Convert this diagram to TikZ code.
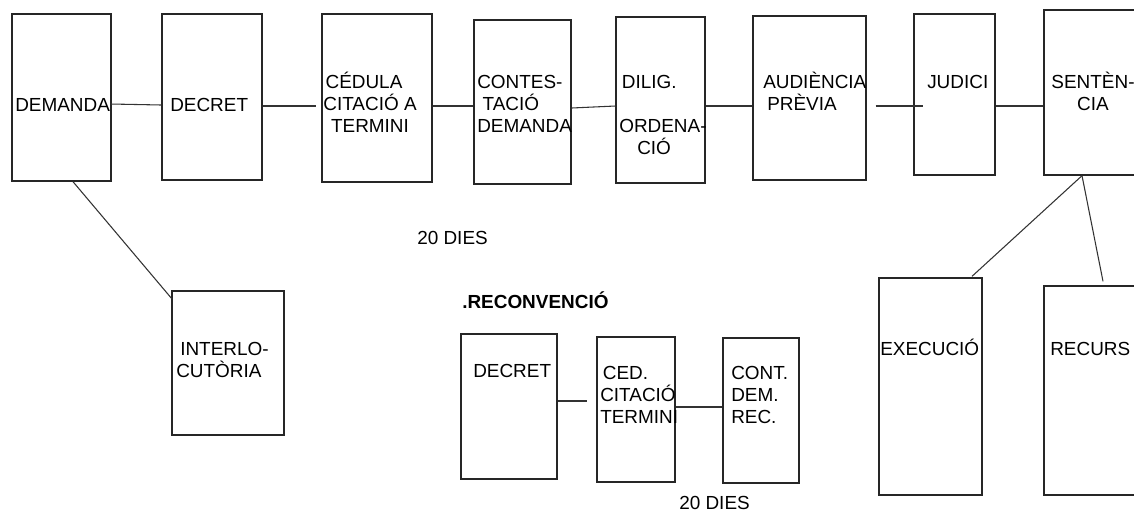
\documentclass[tikz,border=0pt]{standalone}
\usepackage{fontspec}
\setmainfont{Liberation Sans}
\usetikzlibrary{calc}
\tikzset{
caixa/.style 2 args={draw=black!85, line width=1pt, inner sep=0pt, minimum width=#1*0.75pt, minimum height=#2*0.75pt},
txt/.style={inner sep=0pt, anchor=base west, align=left},
txtc/.style={inner sep=0pt, anchor=base, align=center},
enllac/.style={draw=black!80, line width=0.8pt}
}
\begin{document}
\begin{tikzpicture}[x=0.75pt, y=-0.75pt, font=\fontsize{14.2}{16.5}\selectfont]
  \clip (0,0) rectangle (1134,512);
  % fila principal
  \node[caixa={99}{167}] (dem) at (61.5,97.5) {};
  \node[caixa={100}{166}] (dec) at (212,97) {};
  \node[caixa={110}{168}] (ced) at (377,98) {};
  \node[caixa={97}{164}] (cont) at (522.5,102) {};
  \node[caixa={89}{166}] (dilig) at (660.5,100) {};
  \node[caixa={113}{164}] (aud) at (809.5,98) {};
  \node[caixa={81}{161}] (jud) at (954.5,94.5) {};
  \node[caixa={106}{165}] (sent) at (1097,92.5) {};
  \node[txt] (t-dem) at (15,111) {DEMANDA};
  \node[txt] (t-dec) at (170,111) {DECRET};
  \node[txtc] (t-ced) at (370,132) {CÉDULA\hspace*{9pt}\\CITACIÓ A\\TERMINI};
  \node[txt] (t-cont) at (477,132) {CONTES-\\\hspace*{4pt}TACIÓ\\DEMANDA};
  \node[txt] (t-dilig) at (619,154) {\hspace*{2pt}DILIG.\\[16.5pt]ORDENA-\\\hspace*{13.5pt}CIÓ};
  \node[txt] (t-aud) at (763,110) {AUDIÈNCIA\\\hspace*{3pt}PRÈVIA};
  \node[txt] (t-jud) at (927,88) {JUDICI};
  \node[txtc] (t-sent) at (1093,110) {SENTÈN-\\CIA};
  % branques
  \node[caixa={112}{144}] (inter) at (228,363) {};
  \node[caixa={103}{217}] (exec) at (930.5,386.5) {};
  \node[caixa={106}{209}] (rec) at (1097,390.5) {};
  \node[txt] (t-inter) at (176,377) {\hspace*{3pt}INTERLO-\\CUTÒRIA};
  \node[txt] (t-exec) at (880,355) {EXECUCIÓ};
  \node[txt] (t-rec) at (1050,355) {RECURS};
  % reconvencio
  \node[caixa={96}{145}] (dec2) at (509,406.5) {};
  \node[caixa={78}{145}] (ced2) at (636,409.5) {};
  \node[caixa={76}{145}] (cont2) at (761,410.5) {};
  \node[txt] (t-dies1) at (417,244) {20 DIES};
  \node[txt] (t-reconv) at (462,308) {\bfseries .RECONVENCIÓ};
  \node[txt] (t-dec2) at (473,377) {DECRET};
  \node[txt] (t-ced2) at (600,423) {\hspace*{2pt}CED.\\CITACIÓ\\TERMINI};
  \node[txt] (t-cont2) at (731,423) {CONT.\\DEM.\\REC.};
  \node[txt] (t-dies2) at (679,509) {20 DIES};
  \coordinate (forca) at ($(sent.south)+(-15,0)$);
  \draw[enllac] ($(dem.east)+(-1,6.5)$) -- ($(dec.west)+(0,8)$);
  \draw[enllac] ($(dec.east)+(0,9)$) -- ($(ced.west)+(-5,8)$);
  \draw[enllac] ($(ced.east)+(0,8)$) -- ($(cont.west)+(0,4)$);
  \draw[enllac] ($(cont.east)+(0,6)$) -- ($(dilig.west)+(0,6)$);
  \draw[enllac] ($(dilig.east)+(0,6)$) -- ($(aud.west)+(0,8)$);
  \draw[enllac] ($(aud.east)+(9,8)$) -- ($(jud.west)+(10,11.5)$);
  \draw[enllac] ($(jud.east)+(0,11.5)$) -- ($(sent.west)+(0,13.5)$);
  \draw[enllac] ($(dem.south)+(11.5,0)$) -- ($(inter.north west)+(1,9)$);
  \draw[enllac] (forca) -- ($(exec.north)+(41.5,-1)$);
  \draw[enllac] (forca) -- ($(rec.north)+(6,-4)$);
  \draw[enllac] ($(dec2.east)+(0,-5.5)$) -- ($(ced2.west)+(-9,-8.5)$);
  \draw[enllac] ($(ced2.east)+(0,-2.5)$) -- ($(cont2.west)+(0,-3.5)$);
\end{tikzpicture}
\end{document}
